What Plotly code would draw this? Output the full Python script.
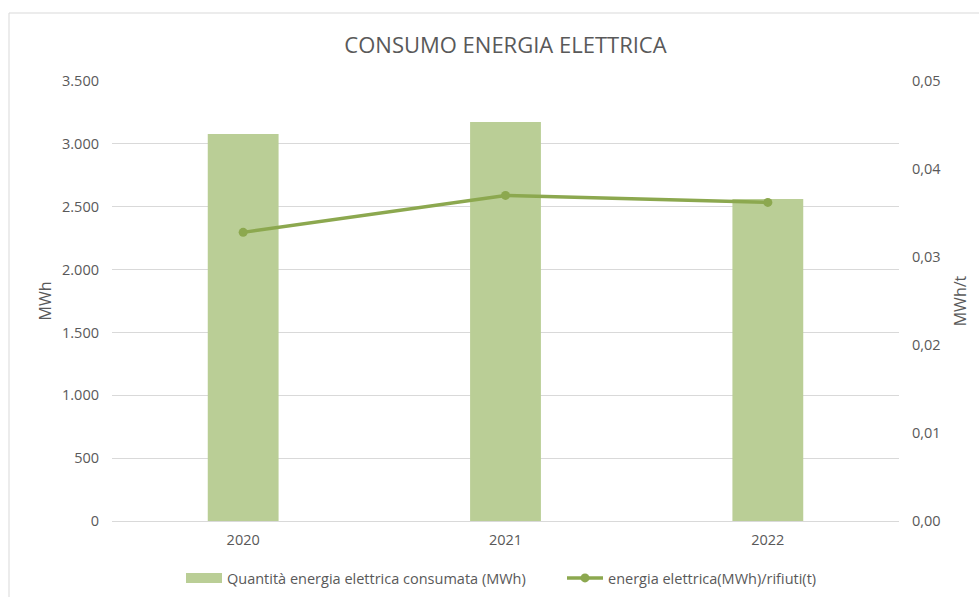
import plotly.graph_objects as go

years = ["2020", "2021", "2022"]
consumo_mwh = [3078, 3174, 2561]
mwh_per_t = [0.0328, 0.0370, 0.0362]

title_text = "CONSUMO ENERGIA ELETTRICA"
bar_name = "Quantità energia elettrica consumata (MWh)"
line_name = "energia elettrica(MWh)/rifiuti(t)"

FONT = "Open Sans, Liberation Sans, sans-serif"
GREY = "#595959"
BAR_C = "#BACE96"
LINE_C = "#8CA84F"

fig = go.Figure()
fig.add_trace(go.Bar(x=years, y=consumo_mwh, name=bar_name, showlegend=False,
                     marker=dict(color=BAR_C, line=dict(width=0)),
                     width=0.27))
# legend proxy for the bar series (wide rectangle swatch)
fig.add_trace(go.Scatter(x=[None], y=[None], name=bar_name, mode="lines",
                         line=dict(color=BAR_C, width=11), legend="legend"))
fig.add_trace(go.Scatter(x=years, y=mwh_per_t, name=line_name, yaxis="y2",
                         mode="lines+markers", legend="legend2",
                         line=dict(color=LINE_C, width=3.5),
                         marker=dict(color=LINE_C, size=9)))

leg_y = (521 - 578) / 440
fig.update_layout(
    width=979, height=597,
    margin=dict(l=112, r=80, t=81, b=76, autoexpand=False),
    paper_bgcolor="white", plot_bgcolor="white",
    separators=",.",
    font=dict(family=FONT, color=GREY, size=14.5),
    title=dict(text=title_text, x=(112 + 787 / 2) / 979, xanchor="center",
               y=1 - 45 / 597, yanchor="middle",
               font=dict(family=FONT, size=22, color=GREY)),
    xaxis=dict(showgrid=False, showline=True, linecolor="#D9D9D9", linewidth=1,
               ticks="", tickfont=dict(size=14.5, color=GREY),
               ticklabelstandoff=6),
    yaxis=dict(range=[0, 3500], dtick=500, tickformat=",d",
               showgrid=True, gridcolor="#D9D9D9", gridwidth=1,
               zeroline=False, showline=False, ticks="",
               title=dict(text="MWh", standoff=6, font=dict(size=16, color=GREY)),
               tickfont=dict(size=14.5, color=GREY), ticklabelstandoff=12),
    yaxis2=dict(range=[0, 0.05], dtick=0.01, tickformat=".2f", overlaying="y",
                side="right", showgrid=False, zeroline=False, showline=False,
                ticks="", title=dict(text="MWh/t", standoff=14,
                                     font=dict(size=16, color=GREY)),
                tickfont=dict(size=14.5, color=GREY), ticklabelstandoff=12),
    legend=dict(orientation="h", x=(181 - 112) / 787, xanchor="left",
                y=leg_y, yanchor="middle",
                font=dict(size=14.5, color=GREY), itemwidth=36),
    legend2=dict(orientation="h", x=(562 - 112) / 787, xanchor="left",
                 y=leg_y, yanchor="middle",
                 font=dict(size=14.5, color=GREY), itemwidth=36),
    showlegend=True,
)

fig.add_shape(type="rect", xref="paper", yref="paper",
              x0=(9 - 112) / 787, x1=1.2, y0=-0.3, y1=(521 - 13) / 440,
              line=dict(color="#D9D9D9", width=1), fillcolor="rgba(0,0,0,0)",
              layer="below")

fig.write_html("out.html")
